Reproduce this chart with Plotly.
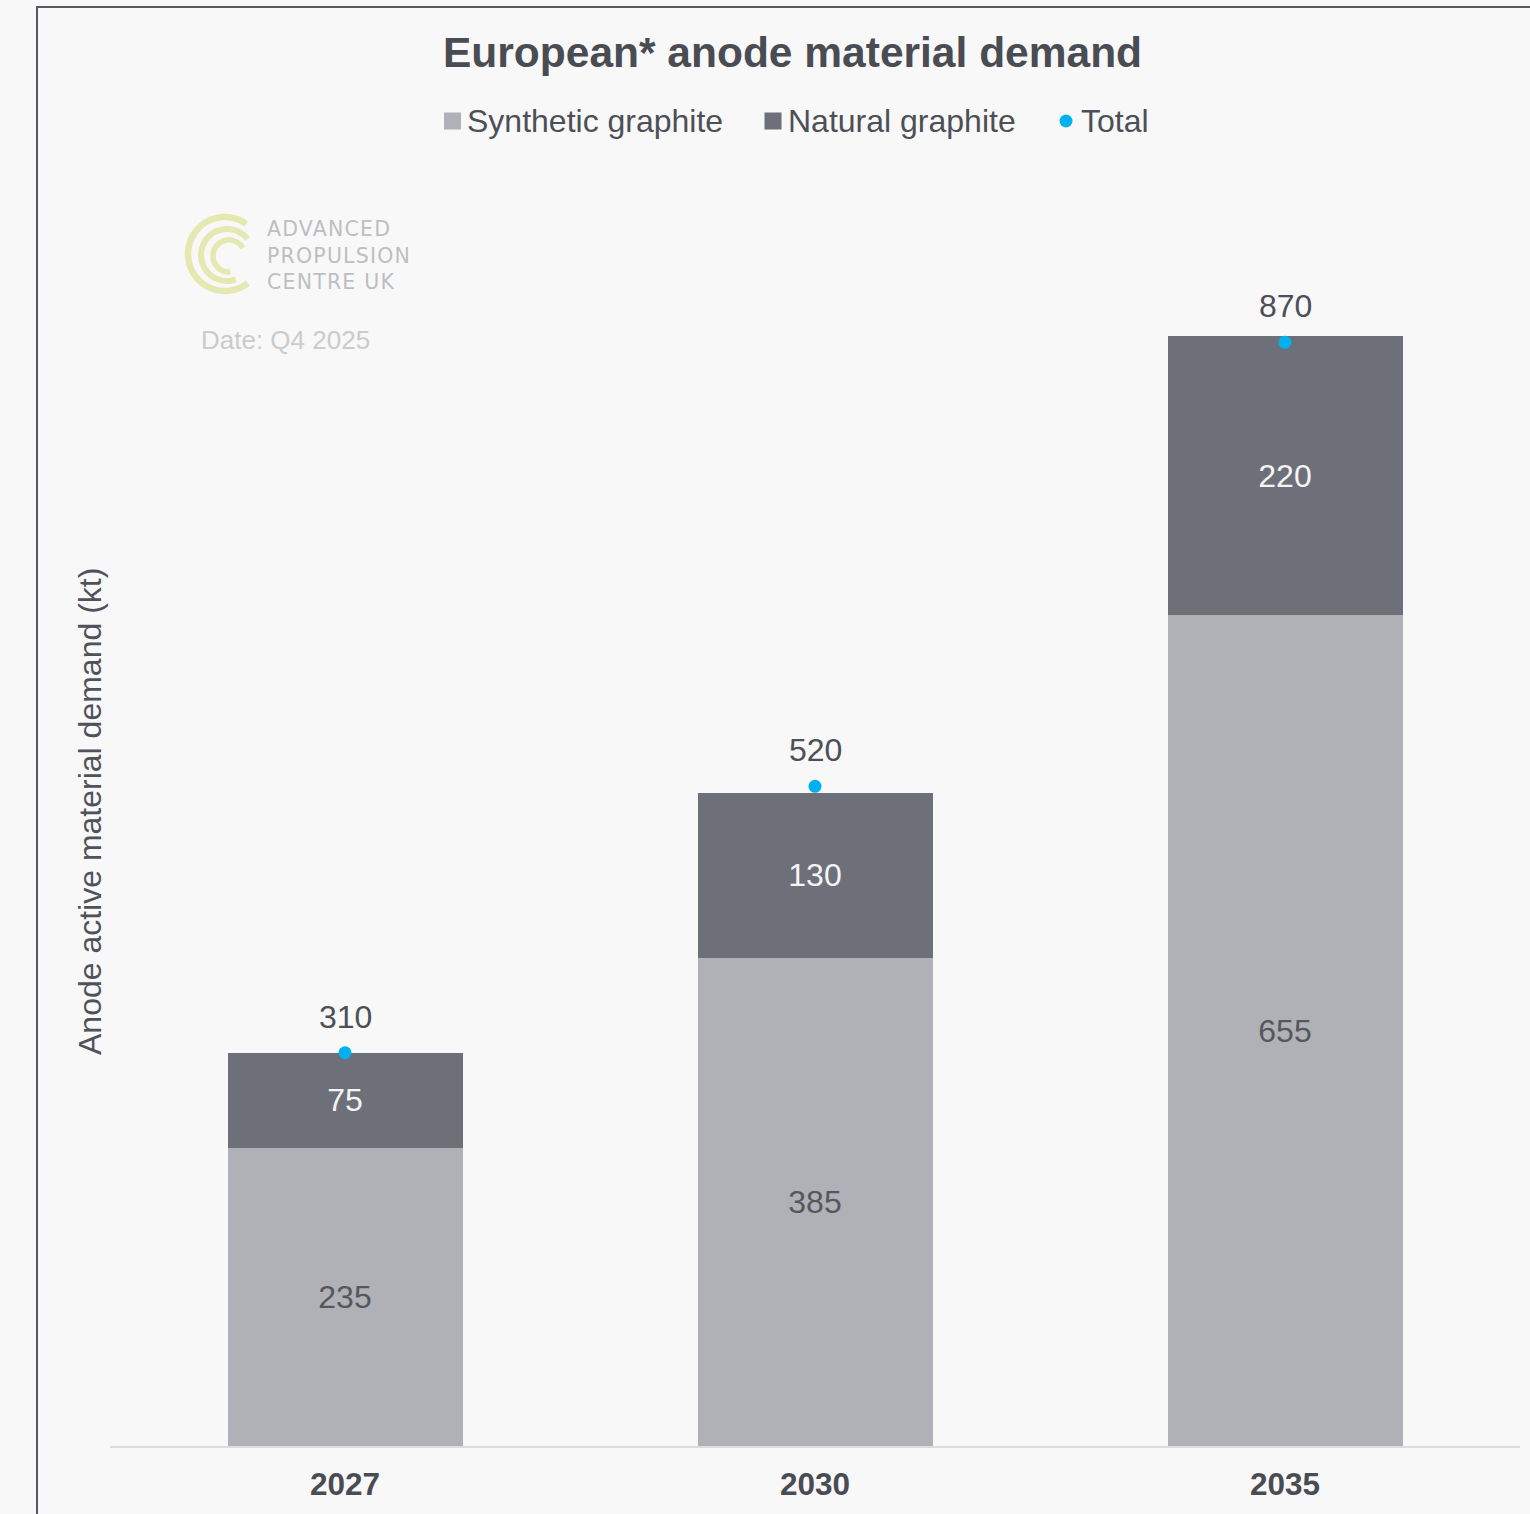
import numpy as np
import plotly.graph_objects as go

# ---- data ----
years = ["2027", "2030", "2035"]
synthetic = [235, 385, 655]
natural = [75, 130, 220]
total = [310, 520, 870]
series_names = ["Synthetic graphite", "Natural graphite", "Total"]

# ---- styling ----
BG = "#f8f8f8"
C_SYN = "#b0b1b6"
C_NAT = "#6d6f79"
C_TOT = "#00b0f0"
C_TEXT = "#4d4f57"
FONT = "Liberation Sans, Arial, sans-serif"

W, H = 1530, 1514
L, R, T, B = 110, 10, 176, 68
PW, PH = W - L - R, H - T - B


def px(x):
    return (x - L) / PW


def py(y):
    return (H - B - y) / PH


fig = go.Figure()

fig.add_trace(go.Bar(
    x=years, y=synthetic, name=series_names[0], marker_color=C_SYN,
    marker_line_width=0, width=0.5,
    text=synthetic, textposition="inside", insidetextanchor="middle",
    textangle=0, textfont=dict(size=32, color="#55575e", family=FONT),
    showlegend=False, hoverinfo="skip",
))
fig.add_trace(go.Bar(
    x=years, y=natural, name=series_names[1], marker_color=C_NAT,
    marker_line_width=0, width=0.5,
    text=natural, textposition="inside", insidetextanchor="middle",
    textangle=0, textfont=dict(size=32, color="#f4f4f4", family=FONT),
    showlegend=False, hoverinfo="skip",
))
fig.add_trace(go.Scatter(
    x=years, y=total, name=series_names[2], mode="markers",
    marker=dict(color=C_TOT, size=13), showlegend=False, hoverinfo="skip",
))

annotations = []
# total value labels above the dots (category index positions)
for i, v in enumerate(total):
    annotations.append(dict(
        x=i, y=v, xref="x", yref="y", text=str(v), showarrow=False,
        yanchor="middle", yshift=36,
        font=dict(size=32, color=C_TEXT, family=FONT),
    ))

# title
annotations.append(dict(
    x=px(792.5), y=py(52), xref="paper", yref="paper",
    text="<b>European* anode material demand</b>", showarrow=False,
    xanchor="center", yanchor="middle",
    font=dict(size=42.5, color="#4a4c53", family=FONT),
))

# y-axis title
annotations.append(dict(
    x=px(90), y=py(812), xref="paper", yref="paper",
    text="Anode active material demand (kt)", showarrow=False, textangle=-90,
    xanchor="center", yanchor="middle",
    font=dict(size=32, color="#50525a", family=FONT),
))

# legend (drawn by hand)
shapes = []
legend_items = [
    (series_names[0], "square", C_SYN, 452.5, 465),
    (series_names[1], "square", C_NAT, 773, 786),
    (series_names[2], "circle", C_TOT, 1066, 1079),
]
LEG_Y = 121
for name, kind, col, cx, tx in legend_items:
    if kind == "square":
        shapes.append(dict(type="rect", xref="paper", yref="paper",
                           x0=px(cx - 8.5), x1=px(cx + 8.5),
                           y0=py(LEG_Y + 8.5), y1=py(LEG_Y - 8.5),
                           fillcolor=col, line_width=0))
    else:
        shapes.append(dict(type="circle", xref="paper", yref="paper",
                           x0=px(cx - 6.5), x1=px(cx + 6.5),
                           y0=py(LEG_Y + 6.5), y1=py(LEG_Y - 6.5),
                           fillcolor=col, line_width=0))
    annotations.append(dict(
        x=px(tx), y=py(LEG_Y), xref="paper", yref="paper", text=name,
        showarrow=False, xanchor="left", yanchor="middle",
        font=dict(size=32, color=C_TEXT, family=FONT),
    ))

# outer frame (right and bottom edges run off the page)
shapes.append(dict(type="rect", xref="paper", yref="paper",
                   x0=px(37), x1=px(W + 20), y0=py(H + 20), y1=py(7),
                   line=dict(color="#565a60", width=2), fillcolor="rgba(0,0,0,0)",
                   layer="below"))

# logo: three open arcs
def arc_path(cx, cy, r, a0, a1, n=60):
    ang = np.radians(np.linspace(a0, a1, n))
    xs = cx + r * np.cos(ang)
    ys = cy - r * np.sin(ang)
    pts = [f"{px(x):.5f},{py(y):.5f}" for x, y in zip(xs, ys)]
    return "M" + " L".join(pts)

LOGO = "#e4e9b1"
for cx, cy, r, a0, a1, w in [
    (225, 254, 37, 55, 308, 6.5),
    (227, 255, 26, 38, 290, 6),
    (229, 256, 16, 30, 275, 5.5),
]:
    shapes.append(dict(type="path", xref="paper", yref="paper",
                       path=arc_path(cx, cy, r, a0, a1),
                       line=dict(color=LOGO, width=w)))

# logo wordmark as a single three-line block
wordmark = "<br>".join(
    f'<span style="letter-spacing:1.2px">{s}</span>'
    for s in ["ADVANCED", "PROPULSION", "CENTRE UK"]
)
annotations.append(dict(
    x=px(265), y=py(255.5), xref="paper", yref="paper",
    text=wordmark,
    showarrow=False, xanchor="left", yanchor="middle", align="left",
    font=dict(size=20.5, color="#bdbec2", family="DejaVu Sans, sans-serif"),
))

annotations.append(dict(
    x=px(199), y=py(340), xref="paper", yref="paper", text="Date: Q4 2025",
    showarrow=False, xanchor="left", yanchor="middle",
    font=dict(size=26, color="#cacbcd", family=FONT),
))

fig.update_layout(
    width=W, height=H,
    margin=dict(l=L, r=R, t=T, b=B, pad=0),
    paper_bgcolor=BG, plot_bgcolor=BG,
    barmode="stack", bargap=0.5,
    annotations=annotations, shapes=shapes,
    showlegend=False,
    uniformtext=dict(minsize=32, mode="show"),
)
fig.update_xaxes(
    type="category", automargin=False,
    range=[-0.5, 2.5], showgrid=False, zeroline=False,
    showline=True, linecolor="#dcdcdc", linewidth=2,
    ticks="", ticklabelstandoff=9,
    tickfont=dict(size=31.5, color="#4a4c53", family=FONT),
    tickprefix="<b>", ticksuffix="</b>",
)
fig.update_yaxes(range=[0, PH / 1.2686], visible=False, automargin=False,
                 showgrid=False, zeroline=False)

fig.write_html("out.html")
